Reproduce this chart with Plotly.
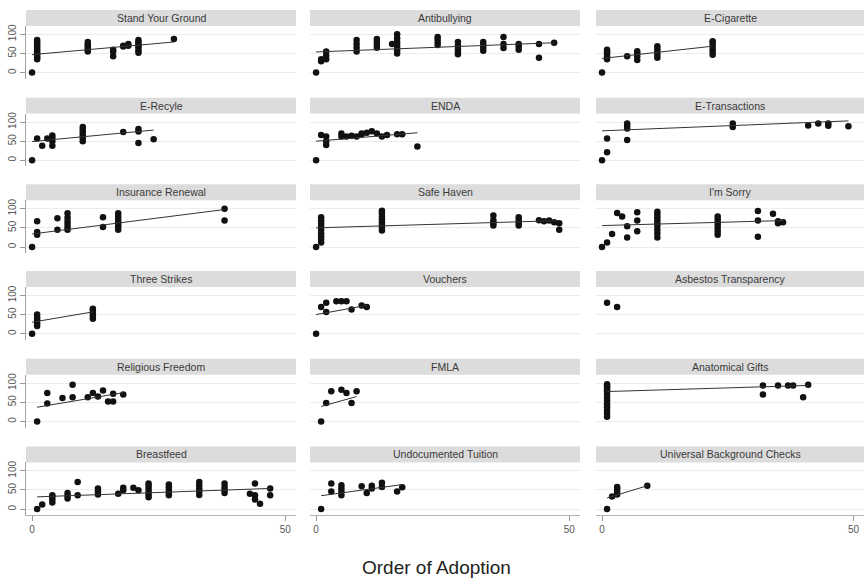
import plotly.graph_objects as go

# ---------------- data ----------------
titles = ["Stand Your Ground", "Antibullying", "E-Cigarette",
          "E-Recyle", "ENDA", "E-Transactions",
          "Insurance Renewal", "Safe Haven", "I'm Sorry",
          "Three Strikes", "Vouchers", "Asbestos Transparency",
          "Religious Freedom", "FMLA", "Anatomical Gifts",
          "Breastfeed", "Undocumented Tuition", "Universal Background Checks"]

syg_x = [0] + [1]*11 + [11]*6 + [16]*3 + [18]*2 + [19]*2 + [21]*7 + [28]
syg_y = [0, 35, 40, 45, 50, 55, 60, 65, 70, 75, 80, 85, 55, 60, 65, 70, 75, 80,
         43, 55, 60, 68, 70, 70, 75, 52, 58, 65, 70, 75, 80, 85, 88]

anti_x = [0, 1, 1, 2, 2, 2] + [8]*4 + [12]*4 + [15] + [16]*7 + [24]*4 + [28]*5 + [33]*4 + [37]*3 + [40]*3 + [44, 44, 47]
anti_y = [0, 30, 35, 35, 45, 55, 55, 65, 75, 85, 65, 72, 80, 88, 75, 50, 58, 65, 72, 80, 90, 100,
          72, 80, 88, 93, 48, 55, 62, 70, 80, 57, 65, 72, 80, 64, 75, 93, 60, 68, 75, 75, 39, 78]

ecig_x = [0] + [1]*5 + [5] + [7]*4 + [11]*5 + [22]*6
ecig_y = [0, 35, 42, 50, 55, 60, 43, 33, 42, 50, 56, 39, 47, 55, 62, 69, 47, 55, 62, 70, 78, 82]

erec_x = [0, 1, 2, 3, 4, 4, 4, 4] + [10]*6 + [18, 21, 21, 21, 24]
erec_y = [0, 57, 38, 57, 38, 50, 58, 65, 50, 58, 65, 72, 80, 87, 74, 75, 82, 45, 55]

enda_x = [0, 1, 2, 2, 2, 5, 5, 6, 7, 8, 9, 9, 10, 11, 12, 13, 14, 16, 17, 20]
enda_y = [0, 66, 62, 50, 40, 70, 62, 62, 64, 62, 68, 70, 72, 76, 70, 62, 66, 68, 68, 36]

etr_x = [0, 1, 1, 5, 5, 5, 5, 26, 26, 41, 43, 45, 45, 49]
etr_y = [0, 21, 57, 53, 83, 90, 96, 87, 96, 91, 96, 96, 90, 89]

ins_x = [0, 1, 1, 1, 5, 5] + [7]*6 + [14, 14] + [17]*7 + [38, 38]
ins_y = [0, 67, 39, 32, 75, 45, 45, 52, 60, 68, 77, 88, 78, 52, 45, 52, 58, 65, 72, 80, 88, 100, 69]

safe_x = [0] + [1]*9 + [13]*8 + [35]*4 + [40]*4 + [44, 45, 46, 47, 48, 48]
safe_y = [0, 12, 20, 28, 35, 45, 55, 62, 70, 78, 43, 50, 57, 64, 72, 80, 88, 95,
          56, 63, 70, 82, 56, 63, 70, 78, 70, 67, 69, 65, 45, 62]

sorry_x = [0, 1, 2, 3, 4, 5, 5, 7, 7, 7] + [11]*9 + [23]*7 + [31, 31, 31, 34, 35, 35, 36]
sorry_y = [0, 12, 34, 89, 80, 54, 25, 91, 69, 41, 25, 35, 45, 55, 62, 70, 78, 85, 92,
           32, 40, 48, 56, 64, 72, 80, 94, 69, 27, 87, 62, 67, 65]

three_x = [0] + [1]*5 + [12]*5
three_y = [0, 20, 27, 35, 42, 50, 39, 47, 54, 62, 65]

vouch_x = [0, 1, 2, 2, 4, 5, 6, 7, 9, 10]
vouch_y = [0, 70, 81, 57, 85, 85, 85, 63, 74, 70]

asb_x = [1, 3]
asb_y = [81, 70]

rel_x = [1, 3, 3, 6, 8, 8, 11, 12, 13, 14, 15, 16, 16, 18]
rel_y = [0, 47, 74, 61, 96, 63, 63, 74, 65, 81, 52, 52, 72, 70]

fmla_x = [1, 2, 3, 5, 6, 7, 8]
fmla_y = [0, 48, 79, 83, 74, 48, 79]

anat_x = [1]*13 + [32, 32, 35, 37, 38, 40, 41]
anat_y = [12, 20, 28, 37, 45, 53, 62, 70, 78, 83, 87, 92, 97, 94, 70, 94, 94, 94, 63, 96]

breast_x = [1, 2, 4, 4, 4, 4, 7, 7, 7, 9, 9, 13, 13, 13, 17, 18, 18, 20, 21] + [23]*6 + [27]*5 + [33]*5 + [38]*4 + [43, 44, 44, 45, 44, 47, 47]
breast_y = [0, 12, 17, 25, 33, 36, 28, 35, 42, 71, 36, 38, 46, 54, 40, 56, 49, 56, 49,
            31, 38, 46, 54, 61, 67, 36, 43, 50, 57, 64, 37, 46, 54, 62, 71,
            42, 50, 58, 67, 40, 36, 25, 14, 67, 54, 36]

undoc_x = [1, 3, 3, 5, 5, 5, 5, 9, 10, 11, 11, 13, 13, 16, 17]
undoc_y = [0, 67, 46, 36, 46, 54, 62, 60, 42, 61, 54, 69, 58, 46, 57]

ubc_x = [1, 2, 3, 3, 3, 3, 9]
ubc_y = [0, 33, 38, 46, 54, 58, 61]

points_x = [syg_x, anti_x, ecig_x, erec_x, enda_x, etr_x, ins_x, safe_x, sorry_x,
            three_x, vouch_x, asb_x, rel_x, fmla_x, anat_x, breast_x, undoc_x, ubc_x]
points_y = [syg_y, anti_y, ecig_y, erec_y, enda_y, etr_y, ins_y, safe_y, sorry_y,
            three_y, vouch_y, asb_y, rel_y, fmla_y, anat_y, breast_y, undoc_y, ubc_y]

# fitted-line endpoints (None = no line)
fit_x = [[0, 28], [0, 47], [0, 22], [0, 24], [0, 20], [0, 49], [0, 38], [0, 48], [0, 36],
         [0, 12], [0, 10], None, [1, 18], [1, 8], [1, 41], [1, 47], [1, 17], [1, 9]]
fit_y = [[47, 80], [54, 78], [37, 69], [49, 79], [50, 72], [77, 103], [34, 98], [50, 69], [56, 69],
         [30, 57], [50, 74], None, [37, 75], [39, 65], [78, 94], [32, 54], [35, 64], [29, 61]]

y_ticks = [0, 50, 100]
x_ticks = [0, 50]

# ---------------- layout ----------------
W, H = 865, 580
col_px = [(26, 296), (310, 580), (596, 864)]
row_tops = [8, 96, 183, 270, 358, 446]
STRIP_H = 16
PLOT_H = 53
FONT = "Liberation Sans, Arial, sans-serif"

fig = go.Figure()
layout = dict(width=W, height=H, margin=dict(l=0, r=0, t=0, b=0),
              paper_bgcolor="white", plot_bgcolor="white", showlegend=False,
              shapes=[], annotations=[])

for i in range(18):
    r, c = divmod(i, 3)
    n = i + 1
    xa = "x" if n == 1 else f"x{n}"
    ya = "y" if n == 1 else f"y{n}"
    x0, x1 = col_px[c]
    top = row_tops[r]
    ydom = [1 - (top + STRIP_H + PLOT_H) / H, 1 - (top + STRIP_H) / H]
    xdom = [x0 / W, x1 / W]

    fig.add_trace(go.Scatter(x=points_x[i], y=points_y[i], mode="markers",
                             marker=dict(size=6.5, color="#111111"),
                             xaxis=xa, yaxis=ya, hoverinfo="x+y"))
    if fit_x[i] is not None:
        fig.add_trace(go.Scatter(x=fit_x[i], y=fit_y[i], mode="lines",
                                 line=dict(color="#333333", width=1),
                                 xaxis=xa, yaxis=ya, hoverinfo="skip"))

    bottom = (r == 5)
    left = (c == 0)
    layout["xaxis" if n == 1 else f"xaxis{n}"] = dict(
        domain=xdom, anchor=ya, range=[-1.2, 52.1],
        tickvals=x_ticks, showticklabels=bottom,
        ticks="outside" if bottom else "", ticklen=5, tickcolor="#999999",
        showline=bottom, linecolor="#b0b0b0", linewidth=1,
        showgrid=False, zeroline=False,
        tickfont=dict(family=FONT, size=10, color="#555555"))
    layout["yaxis" if n == 1 else f"yaxis{n}"] = dict(
        domain=ydom, anchor=xa, range=[-16, 122],
        tickvals=y_ticks, showticklabels=left, tickangle=-90,
        ticks="outside" if left else "", ticklen=5, tickcolor="#999999",
        showline=left, linecolor="#a0a0a0", linewidth=1,
        showgrid=True, gridcolor="#ececec", gridwidth=1, zeroline=False,
        tickfont=dict(family=FONT, size=10, color="#555555"))

    layout["shapes"].append(dict(type="rect", xref="paper", yref="paper",
                                 x0=x0 / W, x1=x1 / W,
                                 y0=1 - (top + STRIP_H) / H, y1=1 - top / H,
                                 fillcolor="#dcdcdc", line=dict(width=0), layer="below"))
    layout["annotations"].append(dict(text=titles[i], xref="paper", yref="paper",
                                      x=(x0 + x1) / 2 / W, y=1 - (top + STRIP_H / 2) / H,
                                      xanchor="center", yanchor="middle", showarrow=False,
                                      font=dict(family=FONT, size=10.5, color="#3a3a3a")))

layout["annotations"].append(dict(text="Order of Adoption", xref="paper", yref="paper",
                                  x=436 / W, y=1 - 567 / H, xanchor="center", yanchor="middle",
                                  showarrow=False,
                                  font=dict(family=FONT, size=19, color="#222222")))

fig.update_layout(**layout)
fig.write_html("out.html")
